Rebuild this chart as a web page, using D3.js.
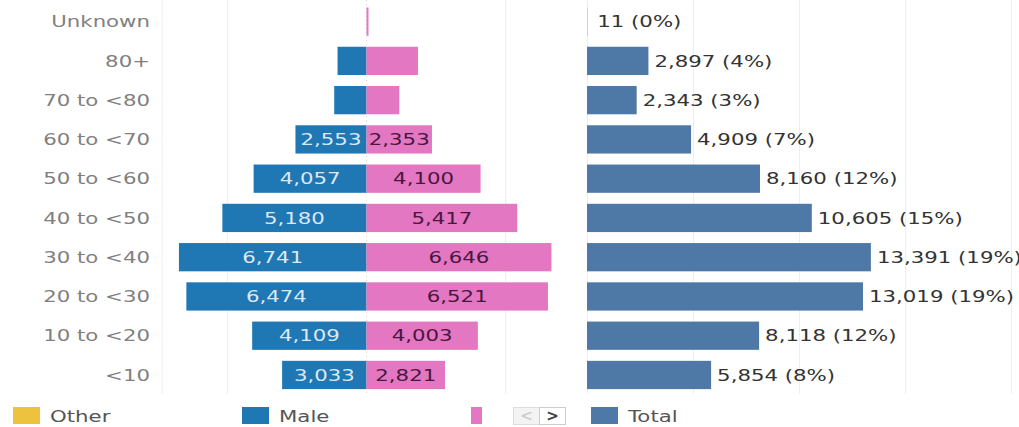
<!DOCTYPE html>
<html>
<head>
<meta charset="utf-8">
<script src="https://cdn.jsdelivr.net/npm/d3@7"></script>
<style>
  body { margin: 0; background: white; }
  svg text { font-family: "DejaVu Sans", sans-serif; }
</style>
</head>
<body>
<div id="chart"></div>
<script>
let ageGroups = ["Unknown", "80+", "70 to <80", "60 to <70", "50 to <60", "40 to <50", "30 to <40", "20 to <30", "10 to <20", "<10"]
let maleCounts = [0, 1040, 1160, 2553, 4057, 5180, 6741, 6474, 4109, 3033]
let femaleCounts = [8, 1850, 1180, 2353, 4100, 5417, 6646, 6521, 4003, 2821]
let totalCounts = [11, 2897, 2343, 4909, 8160, 10605, 13391, 13019, 8118, 5854]
let pyramidTicks = [-5000, 0, 5000]
let totalTicks = [0, 5000, 10000, 15000, 20000]
let legendNames = ["Other", "Male", "Female", "Total"]
let legendColors = ["#ecc23e", "#1f77b4", "#e377c2", "#4e79a7"]

let W = 1019, H = 427
let SX = 1.33 // the source screenshot is stretched sideways
let svg = d3.select("#chart").append("svg")
    .attr("width", W).attr("height", H)

let y = d3.scaleBand().domain(ageGroups).range([2, 394.6])
    .paddingInner(0.28).paddingOuter(0.14)
let xPyr = d3.scaleLinear().domain([-7350, 7350]).range([162, 571])
let xTot = d3.scaleLinear().domain([0, 20000]).range([587, 1011])
let fmt = d3.format(",")
let grandTotal = d3.sum(totalCounts)

// put text at (fx, fy) and widen it like the source
function place(sel, fx, fy) {
    sel.attr("x", 0).attr("y", 0).attr("dy", "0.36em")
        .attr("transform", (d, i) => `translate(${fx(d, i)},${fy(d, i)}) scale(${SX},1)`)
}

// grid
let grid = svg.append("g")
grid.append("line").attr("x1", 162).attr("x2", 162).attr("y1", 0).attr("y2", 394)
    .attr("stroke", "#eeeeee")
grid.selectAll(".gp").data(pyramidTicks).join("line")
    .attr("x1", d => xPyr(d)).attr("x2", d => xPyr(d))
    .attr("y1", 0).attr("y2", 394)
    .attr("stroke", d => d === 0 ? "#d8d8d8" : "#eeeeee")
    .attr("stroke-dasharray", d => d === 0 ? "1,3" : null)
grid.selectAll(".gt").data(totalTicks).join("line")
    .attr("x1", d => xTot(d) + 0.5).attr("x2", d => xTot(d) + 0.5)
    .attr("y1", 0).attr("y2", 394)
    .attr("stroke", "#eeeeee")

// row labels
svg.append("g").selectAll("text").data(ageGroups).join("text")
    .call(place, () => 150, d => y(d) + y.bandwidth() / 2)
    .attr("text-anchor", "end")
    .attr("font-size", 16).attr("fill", "#808080")
    .text(d => d)

let rows = ageGroups.map((g, i) => ({ g: g, m: maleCounts[i], f: femaleCounts[i], t: totalCounts[i] }))

// male bars
let male = svg.append("g").selectAll("g").data(rows).join("g")
male.append("rect")
    .attr("x", d => xPyr(-d.m)).attr("y", d => y(d.g))
    .attr("width", d => xPyr(0) - xPyr(-d.m)).attr("height", y.bandwidth())
    .attr("fill", legendColors[1])
male.append("text")
    .call(place, d => (xPyr(-d.m) + xPyr(0)) / 2, d => y(d.g) + y.bandwidth() / 2)
    .attr("text-anchor", "middle")
    .attr("font-size", 16).attr("fill", "#dbe8f4")
    .text(d => fmt(d.m))
    .each(function (d) {
        if (this.getComputedTextLength() * SX > xPyr(0) - xPyr(-d.m)) d3.select(this).remove()
    })

// female bars
let female = svg.append("g").selectAll("g").data(rows).join("g")
female.append("rect")
    .attr("x", xPyr(0)).attr("y", d => y(d.g))
    .attr("width", d => Math.max(xPyr(d.f) - xPyr(0), 2)).attr("height", y.bandwidth())
    .attr("fill", legendColors[2])
female.append("text")
    .call(place, d => (xPyr(d.f) + xPyr(0)) / 2, d => y(d.g) + y.bandwidth() / 2)
    .attr("text-anchor", "middle")
    .attr("font-size", 16).attr("fill", "#4a1640")
    .text(d => fmt(d.f))
    .each(function (d) {
        if (this.getComputedTextLength() * SX > xPyr(d.f) - xPyr(0)) d3.select(this).remove()
    })

// total bars
let tot = svg.append("g").selectAll("g").data(rows).join("g")
tot.append("rect")
    .attr("x", xTot(0)).attr("y", d => y(d.g))
    .attr("width", d => xTot(d.t) - xTot(0)).attr("height", y.bandwidth())
    .attr("fill", legendColors[3])
tot.append("text")
    .call(place, d => xTot(d.t) + (d.t < 100 ? 10 : 6), d => y(d.g) + y.bandwidth() / 2)
    .attr("font-size", 16).attr("fill", "#333333")
    .text(d => fmt(d.t) + " (" + Math.round(d.t / grandTotal * 100) + "%)")

// legend
let legend = svg.append("g")
let legendX = [13, 242, 471, 591]
legendNames.forEach((name, i) => {
    legend.append("rect")
        .attr("x", legendX[i]).attr("y", 407)
        .attr("width", i === 2 ? 11 : 27).attr("height", 17)
        .attr("fill", legendColors[i])
    if (i !== 2) {
        legend.append("text").datum(name)
            .call(place, () => legendX[i] + 37, () => 416)
            .attr("font-size", 16).attr("fill", "#555555")
            .text(name)
    }
})
// scroll arrows
legend.append("rect").attr("x", 513.5).attr("y", 407.5).attr("width", 26).attr("height", 17)
    .attr("fill", "#f3f3f3").attr("stroke", "#dddddd")
legend.append("rect").attr("x", 539.5).attr("y", 407.5).attr("width", 26).attr("height", 17)
    .attr("fill", "#ffffff").attr("stroke", "#cccccc")
legend.append("text").attr("x", 526.5).attr("y", 416).attr("dy", "0.35em")
    .attr("text-anchor", "middle").attr("font-size", 15).attr("fill", "#c4c4c4").text("<")
legend.append("text").attr("x", 552.5).attr("y", 416).attr("dy", "0.35em")
    .attr("text-anchor", "middle").attr("font-size", 15).attr("font-weight", "bold").attr("fill", "#444444").text(">")
</script>
</body>
</html>
